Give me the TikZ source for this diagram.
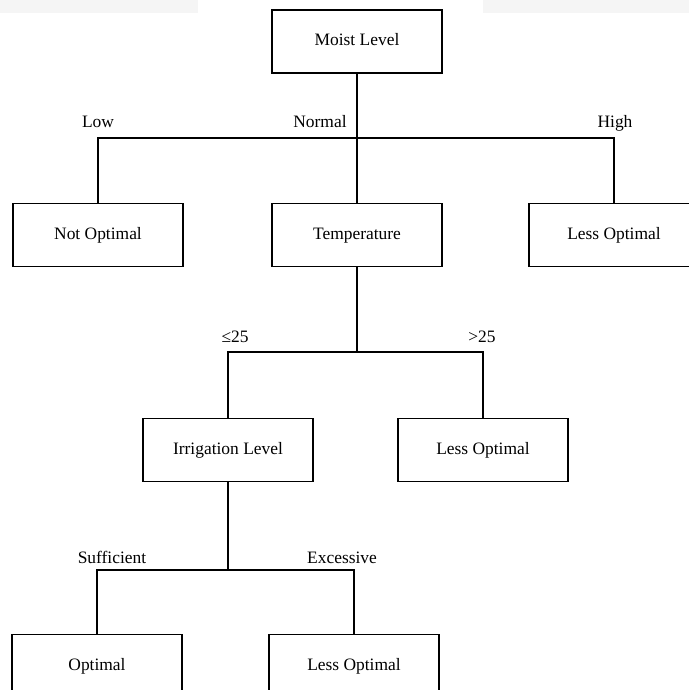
\documentclass[tikz,border=0pt]{standalone}
\usepackage{fontspec}
\setmainfont{Liberation Serif}
\begin{document}
\begin{tikzpicture}[x=1bp,y=-1bp,
  treebox/.style={draw=black, line width=1.7bp, rectangle, minimum width=170bp,
    minimum height=63bp, inner sep=0pt, text height=12.5bp, text depth=3.5bp,
    font=\fontsize{17.5}{21}\selectfont},
  branch/.style={font=\fontsize{17.5}{21}\selectfont, inner sep=0pt, anchor=base},
  link/.style={draw=black, line width=1.7bp}]
  \useasboundingbox (0,0) rectangle (689,690);
  \clip (0,0) rectangle (689,690);
  % light strips along the top edge
  \fill[black!4!white] (0,0) rectangle (198,13);
  \fill[black!4!white] (483,0) rectangle (689,13);

  % level 0
  \node[treebox] (moist) at (357,41.5) {Moist Level};
  % level 1
  \node[treebox] (notopt) at (98,235) {Not Optimal};
  \node[treebox] (temp)   at (357,235) {Temperature};
  \node[treebox] (lessA)  at (614,235) {Less Optimal};
  % level 2
  \node[treebox] (irr)    at (228,450) {Irrigation Level};
  \node[treebox] (lessB)  at (483,450) {Less Optimal};
  % level 3
  \node[treebox] (opt)    at (97,666) {Optimal};
  \node[treebox] (lessC)  at (354,666) {Less Optimal};

  % junction points of the branch bars
  \coordinate (j1) at (357,138);
  \coordinate (j2) at (357,352);
  \coordinate (j3) at (228,570);

  % connectors
  \draw[link] (moist.south) -- (temp.north);
  \draw[link] (notopt.north) |- (j1) -| (lessA.north);
  \draw[link] (temp.south) -- (j2);
  \draw[link] (irr.north) |- (j2) -| (lessB.north);
  \draw[link] (irr.south) -- (j3);
  \draw[link] (opt.north) |- (j3) -| (lessC.north);

  % branch labels
  \node[branch] (lLow)    at (98,128)  {Low};
  \node[branch] (lNormal) at (320,128) {Normal};
  \node[branch] (lHigh)   at (615,128) {High};
  \node[branch] (lLe)     at (235,342) {≤25};
  \node[branch] (lGt)     at (482,342) {>25};
  \node[branch] (lSuf)    at (112,563) {Sufficient};
  \node[branch] (lExc)    at (342,563) {Excessive};
\end{tikzpicture}
\end{document}
